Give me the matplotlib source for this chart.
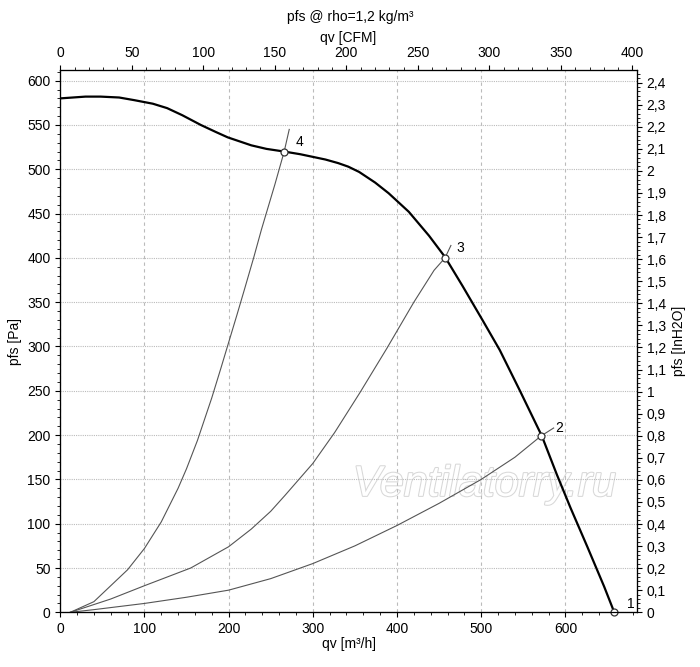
import matplotlib.pyplot as plt
from matplotlib.ticker import MultipleLocator, FuncFormatter
import matplotlib.patheffects as pe

plt.rcParams['font.family'] = ['Liberation Sans', 'DejaVu Sans']

# fan curve (m3/h, Pa)
fan_q = [0, 15, 30, 48, 70, 88, 110, 127, 145, 167, 185, 199, 227, 245, 266, 285,
         300, 315, 330, 342, 355, 374, 390, 414, 438, 457, 478, 502, 522, 546,
         572, 590, 606, 626, 646, 658]
fan_p = [580, 581, 582, 582, 581, 578, 574, 569, 561, 550, 542, 536, 527, 523, 520,
         517, 514, 511, 507, 503, 497, 485, 473, 452, 425, 401, 368, 329, 296, 250,
         199, 155, 118, 74, 29, 0]

# system curves
sys4_q = [12, 40, 80, 100, 120, 140, 150, 163, 180, 191, 210, 219, 230, 239, 255, 266, 272]
sys4_p = [0, 12, 48, 72, 102, 140, 162, 194, 242, 276, 336, 365, 401, 432, 483, 520, 545]
sys3_q = [12, 28, 60, 100, 155, 200, 227, 250, 267, 300, 326, 356, 388, 420, 444, 457, 464]
sys3_p = [0, 5, 15, 30, 50, 74, 94, 114, 132, 168, 203, 248, 298, 350, 386, 400, 414]
sys2_q = [12, 40, 100, 150, 200, 250, 300, 350, 400, 450, 500, 540, 571, 586]
sys2_p = [0, 3, 10, 17, 25, 38, 55, 75, 98, 123, 150, 175, 199, 208]

op_q = [658, 571, 457, 266]
op_p = [0, 199, 400, 520]
op_lbl = ['1', '2', '3', '4']

XMAX, YMAX = 685, 612

fig = plt.figure(figsize=(7, 6.67), dpi=100)
ax = fig.add_axes([0.086, 0.082, 0.824, 0.813])
ax.set_xlim(0, XMAX)
ax.set_ylim(0, YMAX)

for q, p in [(sys4_q, sys4_p), (sys3_q, sys3_p), (sys2_q, sys2_p)]:
    ax.plot(q, p, color='#555555', lw=0.8)
ax.plot(fan_q, fan_p, color='black', lw=1.6)
ax.plot(op_q, op_p, 'o', ms=5, mfc='white', mec='#333333', mew=0.9, zorder=5,
        clip_on=False)
offs = [(9, 3), (10, 3), (8, 4), (8, 4)]
for q, p, t, o in zip(op_q, op_p, op_lbl, offs):
    ax.annotate(t, (q, p), xytext=o, textcoords='offset points', fontsize=10,
                annotation_clip=False, zorder=10)

ax.xaxis.set_major_locator(MultipleLocator(100))
ax.xaxis.set_minor_locator(MultipleLocator(20))
ax.yaxis.set_major_locator(MultipleLocator(50))
ax.yaxis.set_minor_locator(MultipleLocator(10))
ax.grid(axis='x', which='major', ls=(0, (3, 3)), color='#bbbbbb', lw=0.8)
ax.grid(axis='y', which='major', ls=(0, (1, 1)), color='#bbbbbb', lw=0.8)
ax.tick_params(labelsize=10, direction='out')
ax.set_xlabel('qv [m³/h]', fontsize=10, labelpad=1)
ax.set_ylabel('pfs [Pa]', fontsize=10)

ax.text(0.735, 0.235, 'Ventilatorry.ru', transform=ax.transAxes, fontsize=31,
        style='italic', color='white', ha='center', va='center', zorder=0,
        path_effects=[pe.withStroke(linewidth=1.5, foreground='#d8d8d8')])

top = ax.twiny()
top.set_xlim(0, XMAX / 1.699)
top.xaxis.set_major_locator(MultipleLocator(50))
top.xaxis.set_minor_locator(MultipleLocator(10))
top.tick_params(labelsize=10)
top.set_xlabel('qv [CFM]', fontsize=10, labelpad=3)
fig.text(0.5, 0.975, 'pfs @ rho=1,2 kg/m³', ha='center', va='center', fontsize=10)

right = ax.twinx()
right.set_ylim(0, YMAX / 249.09)
right.yaxis.set_major_locator(MultipleLocator(0.1))
right.yaxis.set_minor_locator(MultipleLocator(0.02))
right.yaxis.set_major_formatter(FuncFormatter(lambda v, _: ('%g' % round(v, 1)).replace('.', ',')))
right.tick_params(labelsize=10)
right.set_ylabel('pfs [InH2O]', fontsize=10)

fig.savefig('out.png')
